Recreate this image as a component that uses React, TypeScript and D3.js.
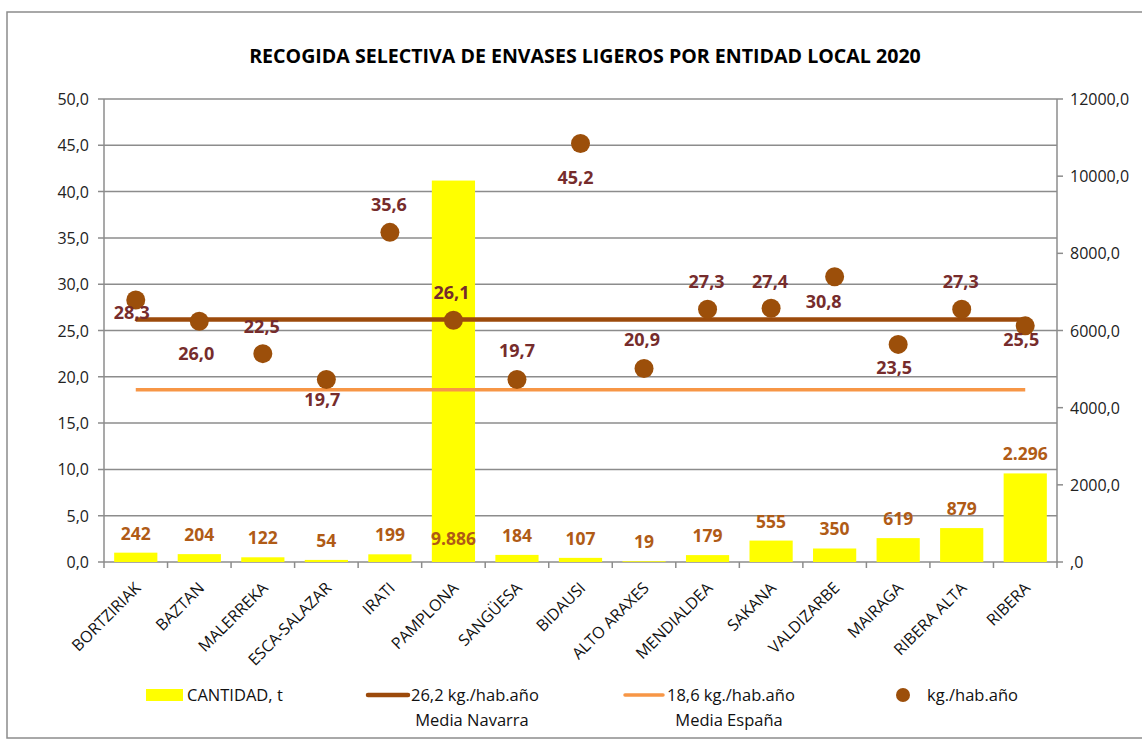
import { scaleBand, scaleLinear } from "d3";

// Chart data
const categories = [
  "BORTZIRIAK", "BAZTAN", "MALERREKA", "ESCA-SALAZAR", "IRATI", "PAMPLONA", "SANGÜESA",
  "BIDAUSI", "ALTO ARAXES", "MENDIALDEA", "SAKANA", "VALDIZARBE", "MAIRAGA", "RIBERA ALTA", "RIBERA",
];
const cantidad = [242, 204, 122, 54, 199, 9886, 184, 107, 19, 179, 555, 350, 619, 879, 2296];
const kgHabAno = [28.3, 26.0, 22.5, 19.7, 35.6, 26.1, 19.7, 45.2, 20.9, 27.3, 27.4, 30.8, 23.5, 27.3, 25.5];
const mediaNavarra = 26.2;
const mediaEspana = 18.6;
const leftTicks = [0, 5, 10, 15, 20, 25, 30, 35, 40, 45, 50];
const rightTicks = [0, 2000, 4000, 6000, 8000, 10000, 12000];

// offsets of the dot labels from their dot (moved by hand in the original)
const dotLabelPos: [number, number][] = [
  [-4, 13], [-3, 32], [-1, -27], [-4, 20], [-1, -28], [-2, -28], [0, -29],
  [-5, 34], [-2, -29], [-1, -28], [-1, -27], [-11, 25], [-4, 23], [-1, -28], [-4, 14],
];

const W = 1142;
const H = 742;
const plot = { left: 104, right: 1057, top: 99, bottom: 562 };

const font = "'Open Sans', 'Liberation Sans', sans-serif";
const gridColor = "#8c8c8c";
const fmt = (v: number) => v.toFixed(1).replace(".", ",");
const fmtRight = (v: number) => (v === 0 ? ",0" : v.toFixed(1).replace(".", ","));
const fmtThousands = (v: number) => String(v).replace(/\B(?=(\d{3})+(?!\d))/g, ".");

export default function App() {
  const x = scaleBand<string>()
    .domain(categories)
    .range([plot.left, plot.right])
    .paddingInner(0.32)
    .paddingOuter(0.16);
  const yL = scaleLinear().domain([0, 50]).range([plot.bottom, plot.top]);
  const yR = scaleLinear().domain([0, 12000]).range([plot.bottom, plot.top]);
  const step = (plot.right - plot.left) / categories.length;
  const cx = (c: string) => (x(c) as number) + x.bandwidth() / 2;
  const firstX = cx(categories[0]);
  const lastX = cx(categories[categories.length - 1]);

  return (
    <svg width={W} height={H} style={{ position: "absolute", left: 0, top: 0, background: "white" }}>
      <rect x={7} y={12} width={1140} height={726} fill="white" stroke={gridColor} strokeWidth={1.5} />

      <text x={585} y={63} textAnchor="middle" fontFamily={font} fontWeight="bold" fontSize={19.6} fill="#000">
        RECOGIDA SELECTIVA DE ENVASES LIGEROS POR ENTIDAD LOCAL 2020
      </text>

      {/* gridlines + left axis */}
      {leftTicks.map((t) => (
        <g key={"l" + t}>
          <line x1={plot.left - 6} x2={plot.right} y1={yL(t)} y2={yL(t)} stroke={gridColor} strokeWidth={1.5} />
          <text x={89} y={yL(t) + 6} textAnchor="end" fontFamily={font} fontSize={16} fill="#222">
            {fmt(t)}
          </text>
        </g>
      ))}
      <line x1={plot.left} x2={plot.left} y1={plot.top} y2={plot.bottom} stroke={gridColor} strokeWidth={1.5} />
      <line x1={plot.right} x2={plot.right} y1={plot.top} y2={plot.bottom} stroke={gridColor} strokeWidth={1.5} />

      {/* right axis */}
      {rightTicks.map((t) => (
        <g key={"r" + t}>
          <line x1={plot.right} x2={plot.right + 6} y1={yR(t)} y2={yR(t)} stroke={gridColor} strokeWidth={1.5} />
          <text x={1070} y={yR(t) + 6} textAnchor="start" fontFamily={font} fontSize={16} fill="#222">
            {fmtRight(t)}
          </text>
        </g>
      ))}

      {/* category ticks */}
      {categories.map((c, i) => (
        <line key={"t" + c} x1={plot.left + i * step} x2={plot.left + i * step} y1={plot.bottom} y2={plot.bottom + 6} stroke={gridColor} strokeWidth={1.5} />
      ))}
      <line x1={plot.right} x2={plot.right} y1={plot.bottom} y2={plot.bottom + 6} stroke={gridColor} strokeWidth={1.5} />

      {/* bars */}
      {categories.map((c, i) => (
        <rect key={"b" + c} x={x(c)} y={yR(cantidad[i])} width={x.bandwidth()} height={plot.bottom - yR(cantidad[i])} fill="#ffff00" />
      ))}
      {categories.map((c, i) => {
        const v = cantidad[i];
        const ty = v > 5000 ? plot.bottom - 17 : yR(v) - 13;
        return (
          <text key={"bl" + c} x={cx(c)} y={ty} textAnchor="middle" fontFamily={font} fontWeight="bold" fontSize={17.5} fill="#b05b16">
            {fmtThousands(v)}
          </text>
        );
      })}

      {/* reference lines */}
      <line x1={firstX} x2={lastX} y1={yL(mediaNavarra)} y2={yL(mediaNavarra)} stroke="#9c4a0b" strokeWidth={4.5} />
      <line x1={firstX} x2={lastX} y1={yL(mediaEspana)} y2={yL(mediaEspana)} stroke="#f79646" strokeWidth={3.5} />

      {/* dots */}
      {categories.map((c, i) => (
        <circle key={"d" + c} cx={cx(c)} cy={yL(kgHabAno[i])} r={9.5} fill="#9c4f0a" />
      ))}
      {categories.map((c, i) => (
        <text key={"dl" + c} x={cx(c) + dotLabelPos[i][0]} y={yL(kgHabAno[i]) + dotLabelPos[i][1] + 6.5} textAnchor="middle" fontFamily={font} fontWeight="bold" fontSize={18} fill="#762c2c">
          {fmt(kgHabAno[i])}
        </text>
      ))}

      {/* category labels */}
      {categories.map((c) => (
        <text key={"c" + c} transform={`translate(${cx(c) + 6},${plot.bottom + 27}) rotate(-45)`} textAnchor="end" fontFamily={font} fontSize={16} fill="#111">
          {c}
        </text>
      ))}

      {/* legend */}
      <g fontFamily={font} fontSize={16.5} fill="#111">
        <rect x={146} y={689} width={37} height={12} fill="#ffff00" />
        <text x={187} y={701}>CANTIDAD, t</text>

        <line x1={368} x2={408} y1={695} y2={695} stroke="#9c4a0b" strokeWidth={4.5} strokeLinecap="round" />
        <text x={411} y={701}>26,2 kg./hab.año</text>
        <text x={472} y={726} textAnchor="middle">Media Navarra</text>

        <line x1={625} x2={663} y1={695} y2={695} stroke="#f79646" strokeWidth={3.5} strokeLinecap="round" />
        <text x={667} y={701}>18,6 kg./hab.año</text>
        <text x={729} y={726} textAnchor="middle">Media España</text>

        <circle cx={903} cy={695} r={7} fill="#9c4f0a" />
        <text x={927} y={701}>kg./hab.año</text>
      </g>
    </svg>
  );
}
